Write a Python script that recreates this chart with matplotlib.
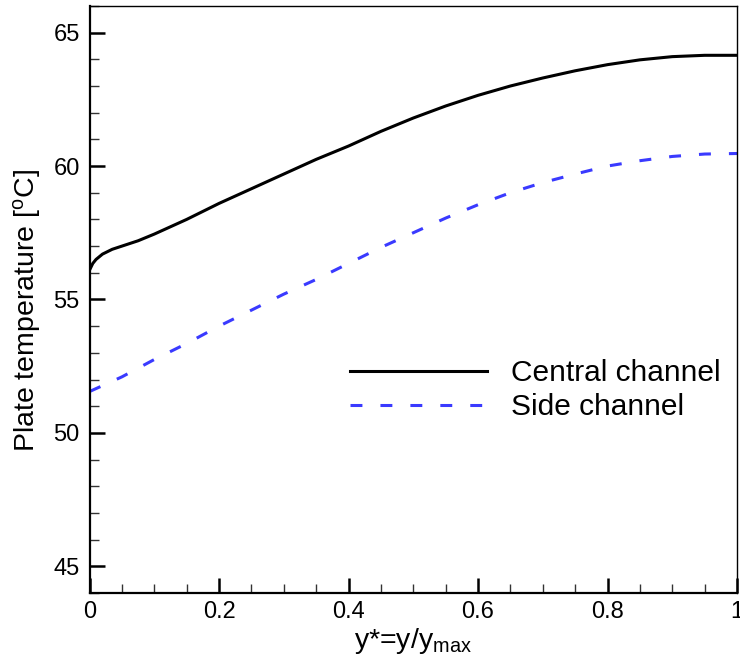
#  Plate temperature along the channel - central vs side channel

import matplotlib
matplotlib.use("Agg")
import matplotlib.pyplot as plt
from matplotlib.ticker import MultipleLocator

plt.rcParams['font.family'] = ['Liberation Sans', 'DejaVu Sans']
plt.rcParams['mathtext.fontset'] = 'custom'
plt.rcParams['mathtext.rm'] = 'Liberation Sans'
plt.rcParams['mathtext.it'] = 'Liberation Sans'

# central channel
x_central = [0.0, 0.005, 0.01, 0.02, 0.035, 0.05, 0.075, 0.1, 0.15, 0.2, 0.25, 0.3,
             0.35, 0.4, 0.45, 0.5, 0.55, 0.6, 0.65, 0.7, 0.75, 0.8, 0.85, 0.9,
             0.95, 1.0]
t_central = [56.1, 56.35, 56.5, 56.7, 56.88, 57.0, 57.2, 57.45, 58.0, 58.6, 59.15, 59.7,
             60.25, 60.75, 61.3, 61.8, 62.25, 62.65, 63.0, 63.3, 63.57, 63.8, 63.98, 64.1,
             64.15, 64.15]

# side channel
x_side = [0.0, 0.05, 0.1, 0.15, 0.2, 0.25, 0.3, 0.35, 0.4, 0.45, 0.5,
          0.55, 0.6, 0.65, 0.7, 0.75, 0.8, 0.85, 0.9, 0.95, 1.0]
t_side = [51.55, 52.1, 52.75, 53.35, 54.0, 54.6, 55.2, 55.75, 56.35, 56.95, 57.5,
          58.05, 58.55, 59.0, 59.38, 59.7, 60.0, 60.2, 60.36, 60.45, 60.47]

fig = plt.figure(figsize=(7.4, 6.6), dpi=100)
ax = fig.add_axes([0.121, 0.1015, 0.875, 0.8895])

ax.plot(x_central, t_central, color='black', lw=2.2, label='Central channel')
ax.plot(x_side, t_side, color='#3a3aff', lw=2.2, dashes=(3.9, 5.9),
        label='Side channel')

ax.set_xlim(0, 1)
ax.set_ylim(44, 66)
ax.xaxis.set_minor_locator(MultipleLocator(0.05))
ax.yaxis.set_minor_locator(MultipleLocator(1))
ax.set_xticks([0, 0.2, 0.4, 0.6, 0.8, 1.0])
ax.set_xticklabels(['0', '0.2', '0.4', '0.6', '0.8', '1'])
ax.set_yticks([45, 50, 55, 60, 65])

ax.tick_params(which='both', direction='in', top=False, right=False)
ax.tick_params(which='major', length=10.5, width=1.8, labelsize=17, pad=6)
ax.tick_params(which='minor', length=6.5, width=1.0, color='#333333')
ax.tick_params(axis='y', which='major', pad=7)

for s in ['left', 'bottom']:
    ax.spines[s].set_linewidth(1.6)
for s in ['top', 'right']:
    ax.spines[s].set_linewidth(1.0)

ax.set_xlabel(r'y*=y/y$_{\mathrm{max}}$', fontsize=20.5, labelpad=2)
ax.set_ylabel(r'Plate temperature [$^{\mathrm{o}}$C]', fontsize=20.5)
ax.yaxis.set_label_coords(-0.072, 0.482)

ax.legend(loc='center left', bbox_to_anchor=(0.402, 0.345), frameon=False,
          fontsize=21.5, handlelength=4.6, handletextpad=0.8,
          labelspacing=0.2, borderpad=0, borderaxespad=0)

plt.savefig('out.png', dpi=100)
